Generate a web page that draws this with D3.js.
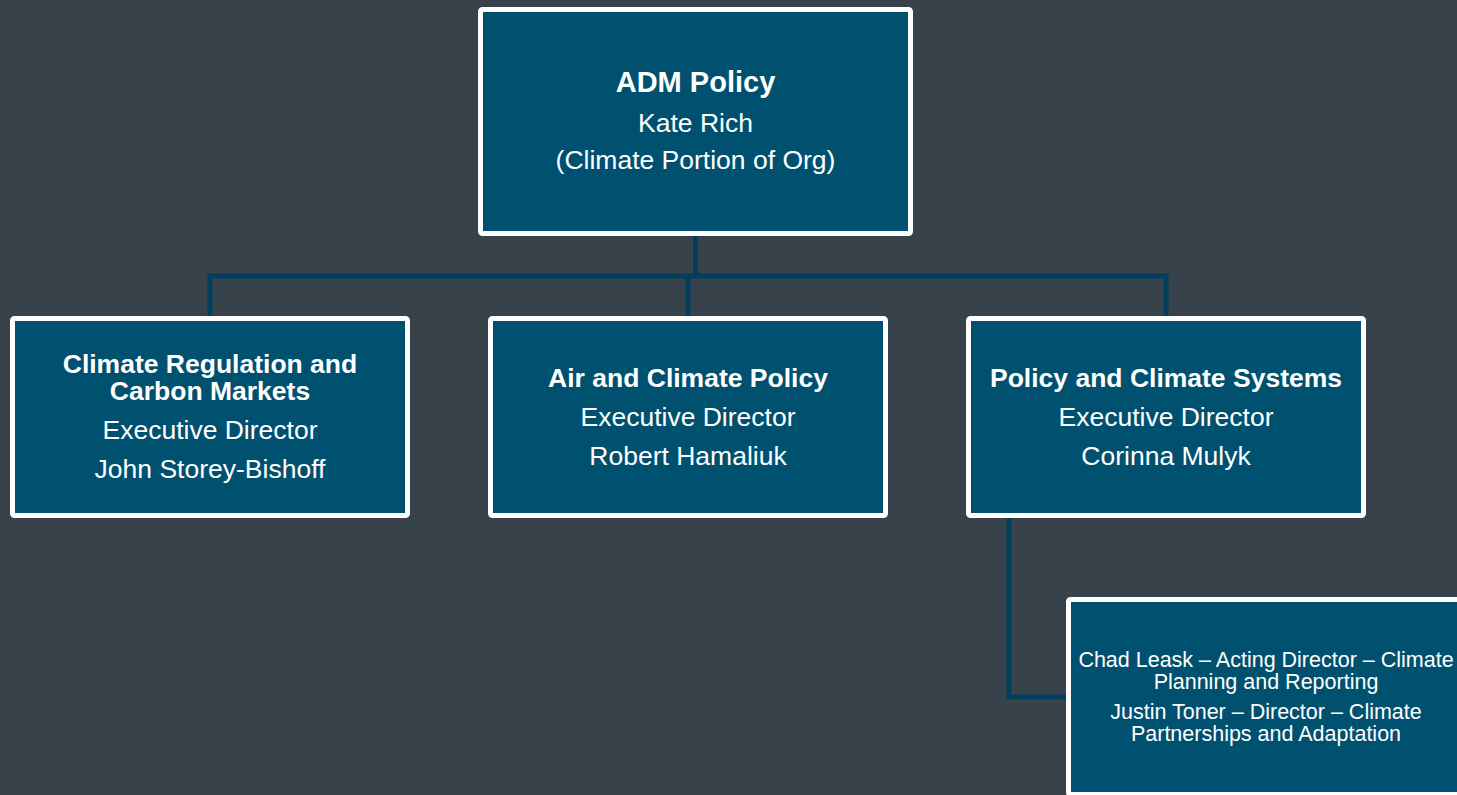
<!DOCTYPE html>
<html lang="en">

<head>
  <meta charset="UTF-8">
  <title>Climate Org Chart</title>
  <style>
    html, body {
      margin: 0;
      padding: 0;
      background: #37424a;
      overflow: hidden;
    }

    #chart text {
      font-family: "Liberation Sans", Arial, sans-serif;
      fill: #ffffff;
    }
  </style>
</head>

<body>

  <div id="chart"></div>

  <script src="https://cdnjs.cloudflare.com/ajax/libs/d3/7.8.5/d3.min.js"></script>
  <script>
    // chart content
    const rootTitle = 'ADM Policy'
    const rootLines = ['Kate Rich', '(Climate Portion of Org)']

    const branchTitles = ['Climate Regulation and\nCarbon Markets', 'Air and Climate Policy', 'Policy and Climate Systems']
    const branchRoles = ['Executive Director', 'Executive Director', 'Executive Director']
    const branchNames = ['John Storey-Bishoff', 'Robert Hamaliuk', 'Corinna Mulyk']

    // the sub unit hangs off the third branch
    const subParent = 'Policy and Climate Systems'
    const subLines = [
      'Chad Leask \u2013 Acting Director \u2013 Climate\nPlanning and Reporting',
      'Justin Toner \u2013 Director \u2013 Climate\nPartnerships and Adaptation'
    ]

    const width = 1457
    const height = 795
    const boxFill = '#00516f'
    const lineColor = '#023f5c'

    const svg = d3.select('#chart')
      .append('svg')
      .attr('width', width)
      .attr('height', height)

    // rows of the chart and the centre of each branch column
    const rowY = d3.scaleOrdinal()
      .domain(['root', 'branch', 'sub'])
      .range([7, 316, 597])

    const xBranch = d3.scalePoint()
      .domain(branchTitles)
      .range([210, 1166])

    const branchW = 400
    const branchH = 202
    const root = { x: 478, y: rowY('root'), w: 435, h: 229 }

    const branches = branchTitles.map((t, i) => ({
      x: xBranch(t) - branchW / 2,
      y: rowY('branch'),
      w: branchW,
      h: branchH,
      lines: [
        ...t.split('\n').map((s, j) => ({ text: s, bold: true, gap: j ? 27 : 0 })),
        { text: branchRoles[i], gap: 39 },
        { text: branchNames[i], gap: 39 }
      ],
      size: 26.5
    }))

    const parent = branches[branchTitles.indexOf(subParent)]
    const sub = { x: parent.x + 100, y: rowY('sub'), w: 400, h: 200, size: 21.5 }
    sub.lines = []
    subLines.forEach((p, i) => {
      p.split('\n').forEach((s, j) => {
        sub.lines.push({ text: s, gap: i === 0 && j === 0 ? 0 : (j ? 22 : 30) })
      })
    })

    root.size = 26.5
    root.lines = [
      { text: rootTitle, bold: true, gap: 0, size: 29 },
      ...rootLines.map((s, i) => ({ text: s, gap: i ? 37 : 40 }))
    ]

    // connectors
    const barY = 276
    const links = [
      [[root.x + root.w / 2, root.y + root.h], [root.x + root.w / 2, barY]],
      [[xBranch(branchTitles[0]), rowY('branch')], [xBranch(branchTitles[0]), barY],
        [xBranch(branchTitles[2]), barY], [xBranch(branchTitles[2]), rowY('branch')]],
      [[xBranch(branchTitles[1]), barY], [xBranch(branchTitles[1]), rowY('branch')]],
      [[parent.x + 43, parent.y + parent.h], [parent.x + 43, 697], [sub.x, 697]]
    ]

    svg.append('g')
      .selectAll('path')
      .data(links)
      .join('path')
      .attr('d', d3.line())
      .attr('fill', 'none')
      .attr('stroke', lineColor)
      .attr('stroke-width', 5)
      .attr('stroke-linejoin', 'round')

    // boxes
    const nodes = [root, ...branches, sub]

    const g = svg.append('g')
      .selectAll('g')
      .data(nodes)
      .join('g')

    g.append('rect')
      .attr('x', d => d.x + 2.5)
      .attr('y', d => d.y + 2.5)
      .attr('width', d => d.w - 5)
      .attr('height', d => d.h - 5)
      .attr('rx', 2)
      .attr('fill', boxFill)
      .attr('stroke', '#ffffff')
      .attr('stroke-width', 5)

    // stack the lines and centre the block in its box
    g.each(function (d) {
      let y = 0
      const ys = d.lines.map(l => (y += l.gap))
      const mid = d.y + d.h / 2 + 0.3 * d.size + 1
      const start = mid - y / 2
      d3.select(this).selectAll('text')
        .data(d.lines)
        .join('text')
        .attr('x', d.x + d.w / 2)
        .attr('y', (l, i) => start + ys[i])
        .attr('text-anchor', 'middle')
        .attr('font-size', l => (l.size || d.size) + 'px')
        .attr('font-weight', l => l.bold ? 'bold' : 'normal')
        .text(l => l.text)
    })
  </script>
</body>

</html>
